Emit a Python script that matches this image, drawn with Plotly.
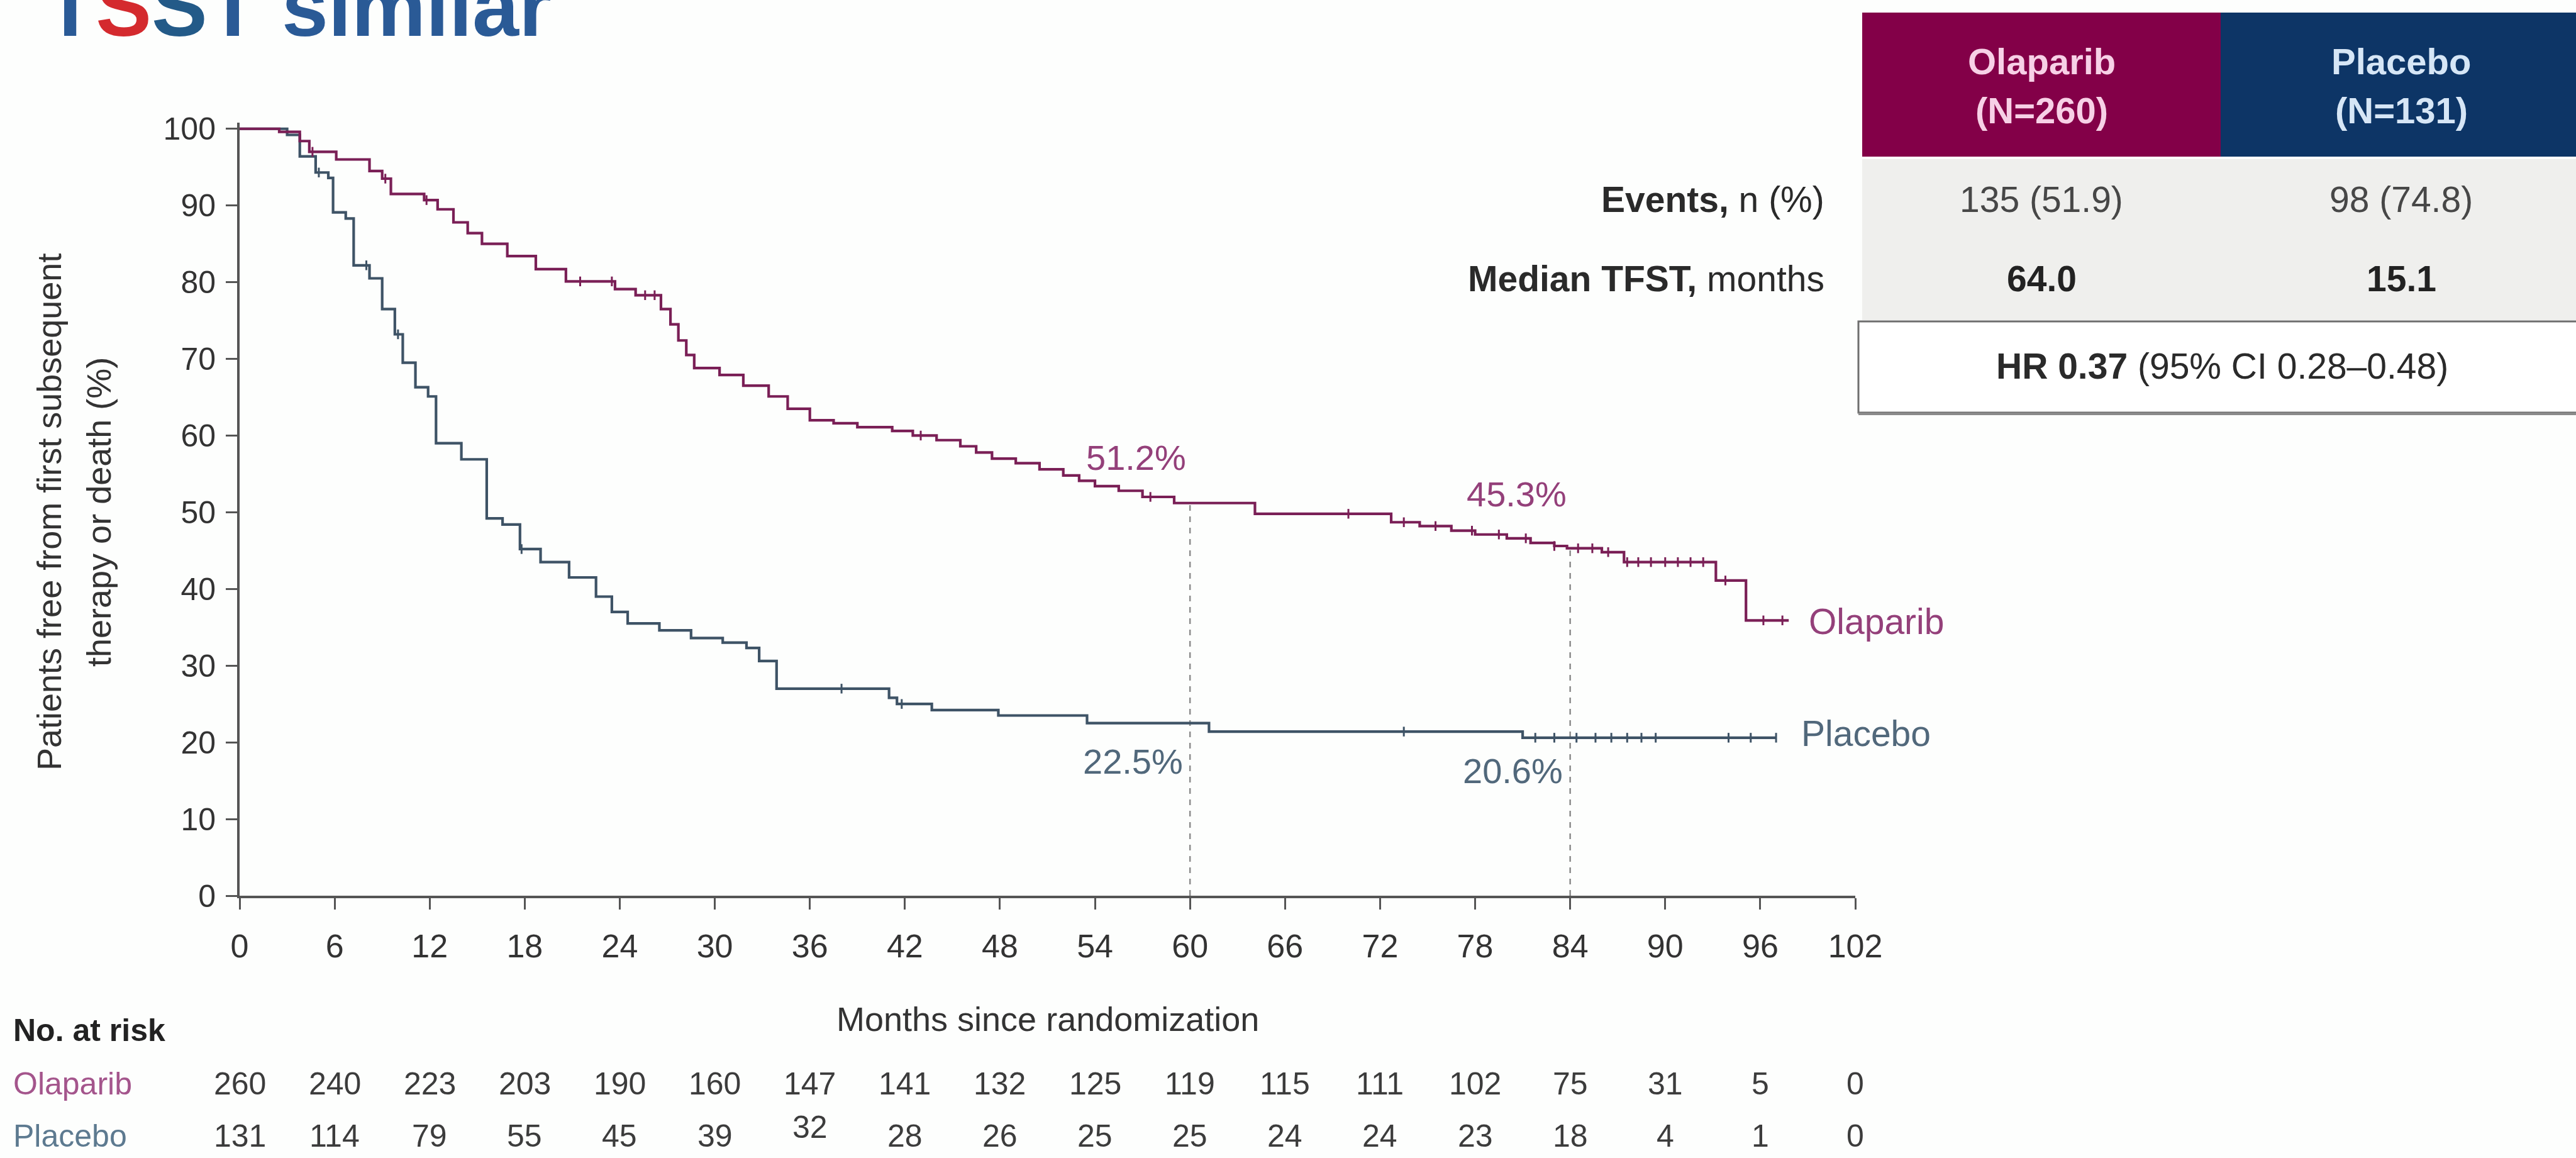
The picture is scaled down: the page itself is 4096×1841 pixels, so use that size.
import plotly.graph_objects as go

# ---------------- data ----------------
month_ticks = list(range(0, 103, 6))
pct_ticks = list(range(0, 101, 10))

# Kaplan-Meier step points (month, % free from first subsequent therapy or death)
olaparib_t = [0, 2.5, 3.8, 4.4, 6.1, 8.2, 9.0, 9.55, 11.65, 12.5, 13.5, 14.4, 15.3, 16.9,
              18.7, 20.6, 23.7, 25.0, 26.6, 27.2, 27.7, 28.2, 28.7, 30.3, 31.8, 33.4, 34.6,
              36.0, 37.5, 39.0, 41.2, 42.5, 44.0, 45.5, 46.5, 47.5, 49.0, 50.5, 52.0, 53.0,
              54.0, 55.5, 57.0, 59.0, 64.1, 72.7, 74.5, 76.5, 78.0, 80.0, 81.5, 83.0, 83.8,
              86.0, 87.4, 93.2, 95.1, 97.8]
olaparib_s = [100, 99.6, 98.4, 97.0, 96.0, 94.5, 93.5, 91.5, 90.7, 89.5, 87.8, 86.4, 85.0, 83.4,
              81.7, 80.1, 79.1, 78.3, 76.5, 74.5, 72.4, 70.5, 68.8, 67.9, 66.5, 65.1, 63.5,
              62.0, 61.6, 61.1, 60.6, 60.0, 59.4, 58.6, 57.8, 57.0, 56.4, 55.6, 54.8, 54.1,
              53.4, 52.8, 52.0, 51.2, 49.8, 48.7, 48.2, 47.6, 47.1, 46.6, 46.0, 45.6, 45.3,
              44.8, 43.5, 41.1, 35.9, 35.9]

placebo_t = [0, 3.0, 3.8, 4.8, 5.6, 5.9, 6.7, 7.2, 8.2, 9.0, 9.8, 10.3, 11.1, 11.9, 12.4,
             14.0, 15.6, 16.6, 17.7, 19.0, 20.8, 22.5, 23.5, 24.5, 26.5, 28.5, 30.5, 32.0,
             32.8, 33.9, 41.0, 41.5, 43.7, 47.9, 53.5, 61.2, 81.0, 97.0]
placebo_s = [100, 99.2, 96.4, 94.3, 93.6, 89.1, 88.3, 82.2, 80.5, 76.5, 73.2, 69.5, 66.3, 65.1,
             59.0, 56.9, 49.2, 48.4, 45.2, 43.5, 41.5, 39.0, 37.0, 35.5, 34.6, 33.6, 33.0,
             32.3, 30.6, 27.0, 25.8, 25.0, 24.2, 23.5, 22.5, 21.4, 20.6, 20.6]

olaparib_censored = [4.6, 9.2, 11.8, 21.5, 23.5, 25.6, 26.2, 43.0, 57.5, 70.0, 73.5, 75.5,
                     77.8, 79.5, 81.2, 83.0, 84.5, 85.4, 86.4, 87.6, 88.3, 89.1, 90.0, 90.8,
                     91.6, 92.4, 93.8, 96.2, 97.4]
placebo_censored = [5.0, 8.0, 10.0, 17.8, 38.0, 41.8, 73.5, 81.8, 83.0, 84.4, 85.6, 86.6,
                    87.6, 88.5, 89.4, 94.0, 95.4, 97.0]

landmark_months = [60, 84]
olaparib_landmark = [51.2, 45.3]
placebo_landmark = [22.5, 20.6]

risk_olaparib = [260, 240, 223, 203, 190, 160, 147, 141, 132, 125, 119, 115, 111, 102, 75, 31, 5, 0]
risk_placebo = [131, 114, 79, 55, 45, 39, 32, 28, 26, 25, 25, 24, 24, 23, 18, 4, 1, 0]

arms = ["Olaparib", "Placebo"]
arm_n = [260, 131]
events = ["135 (51.9)", "98 (74.8)"]
median_tfst = ["64.0", "15.1"]
hazard_ratio = "HR 0.37"
hazard_ci = "(95% CI 0.28\u20130.48)"

# ---------------- style ----------------
W, H = 4096, 1841
L, R, T, B = 381, 1146, 195, 417
PW, PH = W - L - R, H - T - B
FONT = "Arial, Liberation Sans, sans-serif"
OLA_LINE, PLA_LINE = "#7a1f56", "#3e5366"
OLA_TEXT, PLA_TEXT = "#94407a", "#51687b"
AXIS = "#555555"


def xp(px):
    return (px - L) / PW


def yp(py):
    return (H - B - py) / PH


def step_value(ts, ss, t):
    v = ss[0]
    for ti, si in zip(ts, ss):
        if ti <= t:
            v = si
    return v


def label(x, y, text, size, color, xref="paper", yref="paper", xanchor="center", yanchor="middle", **kw):
    return dict(x=x, y=y, xref=xref, yref=yref, text=text, showarrow=False, xanchor=xanchor,
                yanchor=yanchor, font=dict(size=size, color=color, family=FONT), **kw)


fig = go.Figure()

# dashed landmark guides
for m, v in zip(landmark_months, olaparib_landmark):
    fig.add_trace(go.Scatter(x=[m, m], y=[0, v], mode="lines", hoverinfo="skip",
                             line=dict(color="#8c8c8c", width=2.5, dash="dash")))

# survival curves
for ts, ss, col in [(placebo_t, placebo_s, PLA_LINE), (olaparib_t, olaparib_s, OLA_LINE)]:
    fig.add_trace(go.Scatter(x=ts, y=ss, mode="lines", line=dict(color=col, width=4.2, shape="hv")))

# censor ticks
for ts, ss, cens, col in [(placebo_t, placebo_s, placebo_censored, PLA_LINE),
                          (olaparib_t, olaparib_s, olaparib_censored, OLA_LINE)]:
    fig.add_trace(go.Scatter(
        x=cens, y=[step_value(ts, ss, c) for c in cens], mode="markers",
        marker=dict(symbol="line-ns", size=11, line=dict(color=col, width=3)), cliponaxis=False))

ann = []
# landmark labels
for m, v, dy in zip(landmark_months, olaparib_landmark, [5.9, 7.1]):
    ann.append(label(m - 3.4, v + dy, f"{v}%", 56, OLA_TEXT, xref="x", yref="y"))
for m, v, dy in zip(landmark_months, placebo_landmark, [-5.0, -4.3]):
    ann.append(label(m - 3.6, v + dy, f"{v}%", 56, PLA_TEXT, xref="x", yref="y"))

# curve end labels
ann.append(label(99.0, 35.8, arms[0], 57, OLA_TEXT, xref="x", yref="y", xanchor="left"))
ann.append(label(98.5, 21.2, arms[1], 57, PLA_TEXT, xref="x", yref="y", xanchor="left"))

# y-axis title (two lines)
ann.append(label(xp(78), yp(814), "Patients free from first subsequent", 54, "#333333", textangle=-90))
ann.append(label(xp(157), yp(814), "therapy or death (%)", 54, "#333333", textangle=-90))

# x-axis title
ann.append(label(0.5, yp(1620), "Months since randomization", 54, "#333333"))

# number at risk
ann.append(label(xp(19), yp(1638), "<b>No. at risk</b>", 50, "#222222", xanchor="left"))
for name, col, row_y in [(arms[0], "#a4558c", 1723), (arms[1], "#5d7a90", 1806)]:
    ann.append(label(xp(19), yp(row_y), name, 50, col, xanchor="left"))
for m, a, b in zip(month_ticks, risk_olaparib, risk_placebo):
    ann.append(label(m, yp(1723), str(a), 50, "#3c3c3c", xref="x"))
    ann.append(label(m, yp(1806 - (14 if m == 36 else 0)), str(b), 50, "#3c3c3c", xref="x"))

# title (runs off the top edge)
ann.append(label(xp(69), yp(57), "<b>T<span style='color:#d42a2e'>S</span>"
                 "<span style='color:#235a88'>S</span>T similar</b>", 133, "#2a5a96",
                 xanchor="left", yanchor="bottom", yshift=-30))

# summary table
shapes = []
col_edges = [2961, 3531, 4110]
head_cols = ["#830048", "#0d3566"]
head_txt = ["#f7d0e6", "#d6e6f6"]
for i in range(2):
    shapes.append(dict(type="rect", xref="paper", yref="paper", x0=xp(col_edges[i]), x1=xp(col_edges[i + 1]),
                       y0=yp(249), y1=yp(20), fillcolor=head_cols[i], line=dict(width=0), layer="above"))
shapes.append(dict(type="rect", xref="paper", yref="paper", x0=xp(2961), x1=xp(4110), y0=yp(509), y1=yp(253),
                   fillcolor="#efefed", line=dict(width=0), layer="above"))
shapes.append(dict(type="rect", xref="paper", yref="paper", x0=xp(2955), x1=xp(4110), y0=yp(656), y1=yp(511),
                   fillcolor="#ffffff", line=dict(color="#6e6e6e", width=3), layer="above"))
shapes.append(dict(type="line", xref="paper", yref="paper", x0=xp(2955), x1=xp(4110), y0=yp(658), y1=yp(658),
                   line=dict(color="#8a8a8a", width=4), layer="above"))

col_centers = [3246, 3818]
for i in range(2):
    cx = xp(col_centers[i])
    ann.append(label(cx, yp(97), f"<b>{arms[i]}</b>", 58, head_txt[i]))
    ann.append(label(cx, yp(176), f"<b>(N={arm_n[i]})</b>", 58, head_txt[i]))
    ann.append(label(cx, yp(317), events[i], 57, "#474747"))
    ann.append(label(cx, yp(443), f"<b>{median_tfst[i]}</b>", 57, "#222222"))
ann.append(label(xp(2903), yp(317), "<b>Events,</b> n (%)", 57, "#2a2a2a", xanchor="right"))
ann.append(label(xp(2903), yp(443), "<b>Median TFST,</b> months", 57, "#2a2a2a", xanchor="right"))
ann.append(label(xp(3533), yp(582), f"<b>{hazard_ratio}</b> {hazard_ci}", 57, "#2a2a2a"))

fig.update_layout(
    width=W, height=H, margin=dict(l=L, r=R, t=T, b=B, autoexpand=False),
    paper_bgcolor="#fdfefd", plot_bgcolor="#fdfefd", showlegend=False,
    annotations=ann, shapes=shapes,
    xaxis=dict(range=[0, 102], tickvals=month_ticks, showline=True, linecolor=AXIS, linewidth=4,
               ticks="outside", ticklen=18, tickwidth=3, tickcolor=AXIS, showgrid=False, zeroline=False,
               ticklabelstandoff=14, tickfont=dict(size=52, color="#333333", family=FONT)),
    yaxis=dict(range=[0, 100.8], tickvals=pct_ticks, showline=True, linecolor=AXIS, linewidth=4,
               ticks="outside", ticklen=18, tickwidth=3, tickcolor=AXIS, showgrid=False, zeroline=False,
               ticklabelstandoff=6, tickfont=dict(size=50, color="#333333", family=FONT)),
)

fig.write_html("out.html")
